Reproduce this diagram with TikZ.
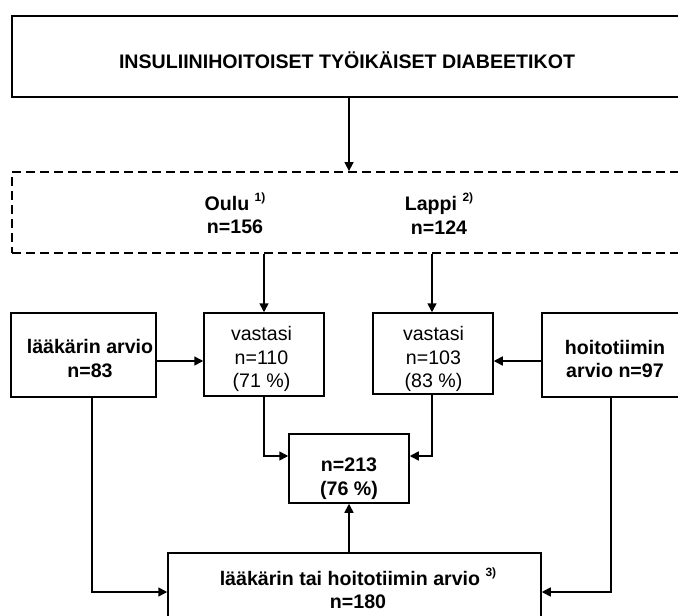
\documentclass[tikz,border=0pt]{standalone}
\usepackage{fontspec}
\setmainfont{Liberation Sans}
\usetikzlibrary{arrows.meta}
\newcommand{\supr}[1]{\smash{\raisebox{0.42em}{\fontsize{12}{12}\selectfont #1}}}
\begin{document}
\begin{tikzpicture}[x=1pt,y=-1pt,
  frame/.style n args={2}{draw,line width=1.5pt,rectangle,inner sep=0pt,minimum width=#1,minimum height=#2},
  dashframe/.style n args={2}{frame={#1}{#2},dash pattern=on 9pt off 5pt,line width=1.8pt},
  txt/.style={inner sep=0pt,align=center,font=\fontsize{19.6}{23.8}\selectfont},
  btxt/.style={txt,font=\fontsize{19.6}{23.8}\selectfont\bfseries},
  arr/.style={-{Triangle[length=9pt,width=9pt]},line width=1.5pt}]
\useasboundingbox (0,0) rectangle (678,616);
\clip (0,0) rectangle (678,616);
\fill[white] (0,0) rectangle (678,616);
% boxes
\node[frame={671pt}{81pt}] (top) at (347.5,56.5) {};
\node[dashframe={678pt}{81pt}] (dash) at (351,212.5) {};
\node[frame={145pt}{84pt}] (L) at (83.5,355) {};
\node[frame={120pt}{83pt}] (V1) at (264,354.5) {};
\node[frame={120pt}{81pt}] (V2) at (433,353.5) {};
\node[frame={146pt}{84pt}] (H) at (615,355) {};
\node[frame={120pt}{69pt}] (N) at (349,468.5) {};
\node[frame={373pt}{78pt}] (B) at (354.5,592) {};
% texts
\node[btxt,anchor=base] (topt) at (347,68) {INSULIINIHOITOISET TYÖIKÄISET DIABEETIKOT};
\node[btxt] (oulu) at (235,215) {Oulu \supr{1)}\\n=156};
\node[btxt] (lappi) at (439,215) {Lappi \supr{2)}\\n=124};
\node[btxt] (Lt) at (90,358.5) {lääkärin arvio\\n=83};
\node[txt] (V1t) at (261.5,359) {vastasi\\n=110\\(71 \%)};
\node[txt] (V2t) at (433.5,359) {vastasi\\n=103\\(83 \%)};
\node[btxt] (Ht) at (615,359) {hoitotiimin\\arvio n=97};
\node[btxt] (Nt) at (349,479) {n=213\\(76 \%)};
\node[btxt] (Bt) at (358,590) {lääkärin tai hoitotiimin arvio \supr{3)}\\n=180};
% connectors
\draw[arr] ([xshift=1.5pt]top.south) -- ([xshift=1.5pt]top.south |- dash.north);
\draw[arr] (V1.north |- dash.south) -- (V1.north);
\draw[arr] ([xshift=-1pt]V2.north |- dash.south) -- ([xshift=-1pt]V2.north);
\draw[arr] ([yshift=-6pt]L.east) -- ([yshift=-6pt]L.east -| V1.west);
\draw[arr] ([yshift=-6pt]H.west) -- ([yshift=-6pt]H.west -| V2.east);
\draw[arr] (V1.south) |- ([yshift=12.5pt]N.west);
\draw[arr] ([xshift=-1pt]V2.south) |- ([yshift=12.5pt]N.east);
\draw[arr] ([xshift=-5.5pt]B.north) -- ([xshift=-5.5pt]B.north |- N.south);
\draw[arr] ([xshift=8.5pt]L.south) |- (B.west);
\draw[arr] ([xshift=-4pt]H.south) |- (B.east);
\end{tikzpicture}
\end{document}
